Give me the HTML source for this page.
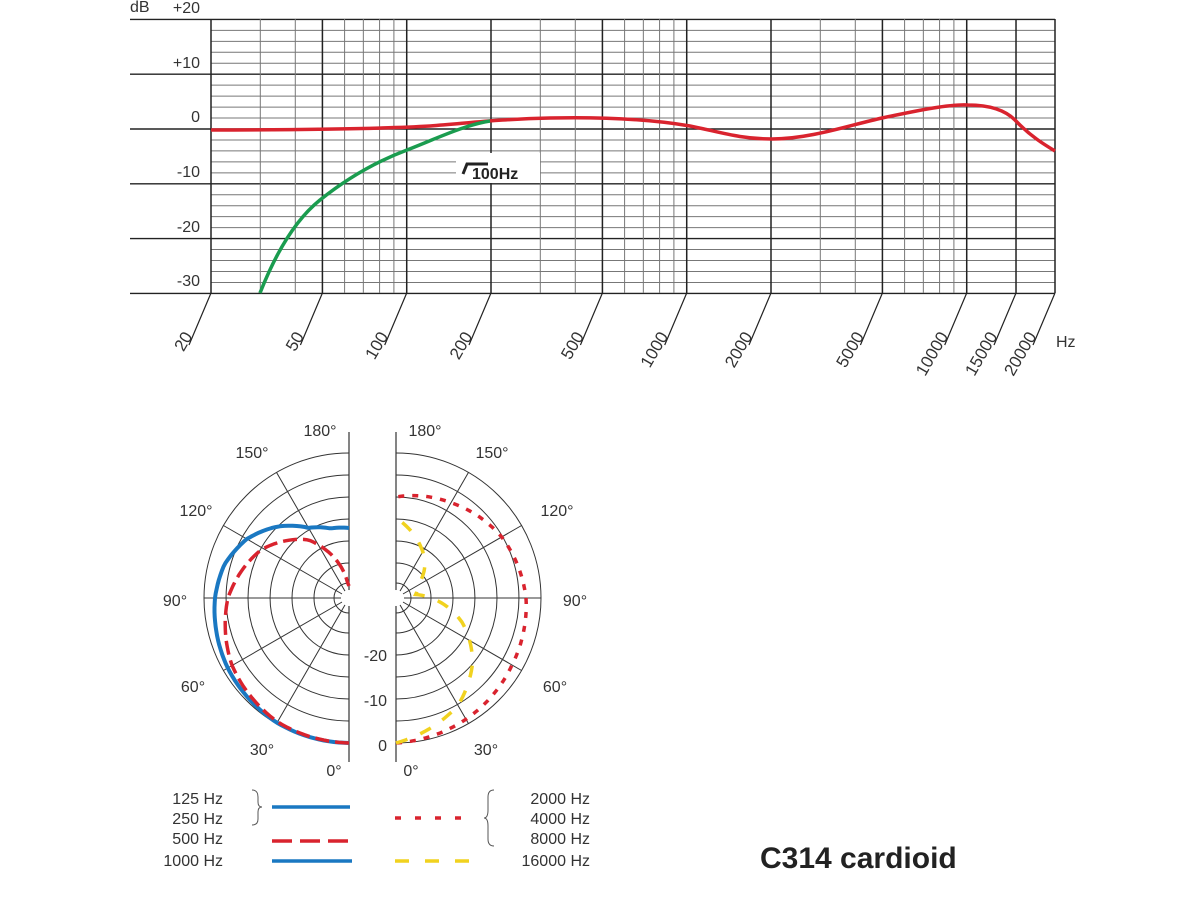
<!DOCTYPE html>
<html><head><meta charset="utf-8">
<style>
html,body{margin:0;padding:0;background:#fff;}
svg{display:block;font-family:"Liberation Sans",Arial,sans-serif;}
</style></head>
<body>
<svg id="s" width="1200" height="900" viewBox="0 0 1200 900" xmlns="http://www.w3.org/2000/svg">
<rect width="1200" height="900" fill="#fff"/>
<g id="grid"></g>
<g id="polar"></g>
<g font-size="16" fill="#333">
<text x="130" y="12">dB</text>
<text x="200" y="13" text-anchor="end">+20</text>
<text x="200" y="68" text-anchor="end">+10</text>
<text x="200" y="122" text-anchor="end">0</text>
<text x="200" y="177" text-anchor="end">-10</text>
<text x="200" y="232" text-anchor="end">-20</text>
<text x="200" y="286" text-anchor="end">-30</text>
<text x="1056" y="347">Hz</text>
</g>
<rect x="456" y="153" width="84" height="30" fill="#fff"/>
<path d="M463 174 L467 164 L488 164" stroke="#222" stroke-width="3" fill="none"/>
<text x="472" y="179" font-size="16" font-weight="bold" fill="#222">100Hz</text>
<path d="M211,130 C280,130 380,129 430,126 C470,123 500,119 550,118 C600,117 650,119 690,126 C720,132 740,139 772,139 C810,139 850,125 882,118 C920,110 950,104 968,105 C990,105 1005,110 1015,120 C1030,136 1045,145 1055,151" stroke="#d9232e" stroke-width="3.5" fill="none"/>
<path d="M260,293 C275,255 295,220 320,200 C345,180 375,162 407,150 C440,137 465,125 490,121" stroke="#1a9c4f" stroke-width="3.5" fill="none"/>
<g font-size="16" fill="#333">
<text x="320" y="436" text-anchor="middle">180°</text>
<text x="252" y="458" text-anchor="middle">150°</text>
<text x="196" y="516" text-anchor="middle">120°</text>
<text x="175" y="606" text-anchor="middle">90°</text>
<text x="193" y="692" text-anchor="middle">60°</text>
<text x="262" y="755" text-anchor="middle">30°</text>
<text x="334" y="776" text-anchor="middle">0°</text>
<text x="425" y="436" text-anchor="middle">180°</text>
<text x="492" y="458" text-anchor="middle">150°</text>
<text x="557" y="516" text-anchor="middle">120°</text>
<text x="575" y="606" text-anchor="middle">90°</text>
<text x="555" y="692" text-anchor="middle">60°</text>
<text x="486" y="755" text-anchor="middle">30°</text>
<text x="411" y="776" text-anchor="middle">0°</text>
<text x="387" y="661" text-anchor="end">-20</text>
<text x="387" y="706" text-anchor="end">-10</text>
<text x="387" y="751" text-anchor="end">0</text>
<text x="223" y="804" text-anchor="end">125 Hz</text>
<text x="223" y="824" text-anchor="end">250 Hz</text>
<text x="223" y="844" text-anchor="end">500 Hz</text>
<text x="223" y="866" text-anchor="end">1000 Hz</text>
<text x="590" y="804" text-anchor="end">2000 Hz</text>
<text x="590" y="824" text-anchor="end">4000 Hz</text>
<text x="590" y="844" text-anchor="end">8000 Hz</text>
<text x="590" y="866" text-anchor="end">16000 Hz</text>
</g>
<path d="M252,790 Q258,790 258,797 L258,802 Q258,807 262,807 Q258,807 258,812 L258,819 Q258,825 252,825" stroke="#555" stroke-width="1" fill="none"/>
<path d="M494,790 Q488,790 488,797 L488,810 Q488,818 484,818 Q488,818 488,826 L488,839 Q488,846 494,846" stroke="#555" stroke-width="1" fill="none"/>
<line x1="272" y1="807" x2="350" y2="807" stroke="#1a78c2" stroke-width="3.5"/>
<line x1="272" y1="841" x2="352" y2="841" stroke="#d9232e" stroke-width="3.5" stroke-dasharray="20,8"/>
<line x1="272" y1="861" x2="352" y2="861" stroke="#1a78c2" stroke-width="3.5"/>
<line x1="395" y1="818" x2="472" y2="818" stroke="#d9232e" stroke-width="3.5" stroke-dasharray="6,14"/>
<line x1="395" y1="861" x2="472" y2="861" stroke="#f1d21f" stroke-width="3.5" stroke-dasharray="14,16"/>
<text x="760" y="868" font-size="30" font-weight="bold" fill="#222">C314 cardioid</text>
</svg>
<script>
var NS="http://www.w3.org/2000/svg";
function el(p,t,a){var e=document.createElementNS(NS,t);for(var k in a)e.setAttribute(k,a[k]);p.appendChild(e);return e;}
var g=document.getElementById("grid");
var X0=211,PD=280,Y0=19,Y1=293;
function fx(f){return X0+PD*Math.log10(f/20);}
function fy(db){return 129-db*(274/50);}
for(var d=-30;d<=20;d+=2){var y=fy(d);var maj=(d%10==0);
 el(g,"line",{x1:maj?130:X0,y1:y,x2:1055,y2:y,stroke:maj?"#222":"#777","stroke-width":maj?1.4:1});}
var fs=[];for(var dec=10;dec<=10000;dec*=10)for(var m=1;m<10;m++){var f=dec*m;if(f>=20&&f<20000)fs.push(f);}
fs.forEach(function(f){var x=fx(f);el(g,"line",{x1:x,y1:Y0,x2:x,y2:Y1,stroke:"#777","stroke-width":1});});
var majors=[20,50,100,200,500,1000,2000,5000,10000,15000,20000];
majors.forEach(function(f){var x=fx(f);if(f==20000)x=1055;
 el(g,"line",{x1:x,y1:Y0,x2:x,y2:Y1,stroke:"#222","stroke-width":1.5});
 el(g,"line",{x1:x,y1:Y1,x2:x-22,y2:Y1+52,stroke:"#222","stroke-width":1.2});
 var t=el(g,"text",{x:0,y:0,"font-size":17,fill:"#333","text-anchor":"end",transform:"translate("+(x-18)+","+(Y1+43)+") rotate(-60)"});
 t.textContent=f;});
var p=document.getElementById("polar");
var radii=[145,123,101,79,57,35,15];
function half(cx,side){
 radii.forEach(function(r){
  el(p,"path",{d:"M"+cx+","+(598-r)+" A"+r+","+r+" 0 0 "+(side<0?0:1)+" "+cx+","+(598+r),stroke:"#333","stroke-width":1,fill:"none"});});
 for(var a=30;a<=150;a+=30){var th=a*Math.PI/180;
  el(p,"line",{x1:cx+side*8*Math.sin(th),y1:598+8*Math.cos(th),x2:cx+side*145*Math.sin(th),y2:598+145*Math.cos(th),stroke:"#333","stroke-width":1});}
 el(p,"line",{x1:cx+side*8,y1:598,x2:cx+side*145,y2:598,stroke:"#333","stroke-width":1});
 el(p,"line",{x1:cx,y1:432,x2:cx,y2:762,stroke:"#333","stroke-width":1.2});
 el(p,"circle",{cx:cx,cy:598,r:8,fill:"#fff"});
}
half(349,-1);half(396,1);
function interp(tab,a){for(var i=0;i<tab.length-1;i++){if(a<=tab[i+1][0]){var t=(a-tab[i][0])/(tab[i+1][0]-tab[i][0]);return tab[i][1]+t*(tab[i+1][1]-tab[i][1]);}}return tab[tab.length-1][1];}
function curve(cx,side,tab,attrs){var pts=[];for(var a=0;a<=180;a+=2){var r=interp(tab,a),th=a*Math.PI/180;pts.push((cx+side*r*Math.sin(th)).toFixed(1)+","+(598+r*Math.cos(th)).toFixed(1));}
 attrs.points=pts.join(" ");attrs.fill="none";el(p,"polyline",attrs);}
curve(349,-1,[[0,145],[30,144],[60,140],[90,134],[105,129],[120,118],[135,101],[150,81],[165,72],[180,70]],{stroke:"#1a78c2","stroke-width":4,"stroke-linejoin":"round"});
curve(349,-1,[[0,145],[30,143],[60,135],[90,121],[119,100],[145,71],[163,37],[175,15],[180,12]],{stroke:"#d9232e","stroke-width":3.5,"stroke-dasharray":"14,6"});
curve(396,1,[[0,145],[30,140],[60,134],[90,130],[120,122],[150,110],[180,101]],{stroke:"#d9232e","stroke-width":3.5,"stroke-dasharray":"6,8"});
curve(396,1,[[0,145],[30,124],[50,100],[70,70],[90,35],[100,20],[120,25],[140,45],[160,62],[180,80]],{stroke:"#f1d21f","stroke-width":3.5,"stroke-dasharray":"12,14"});
</script>
</body></html>
